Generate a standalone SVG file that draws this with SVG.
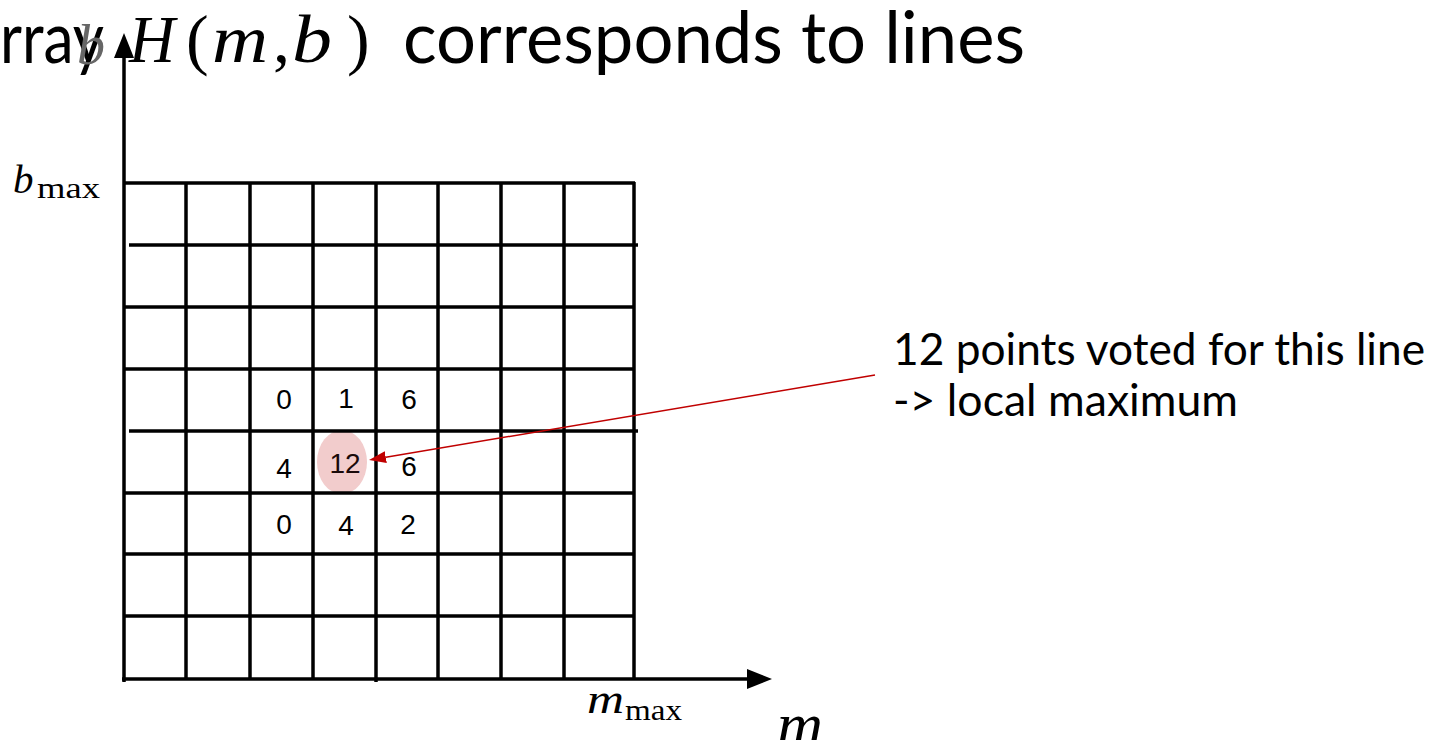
<svg xmlns="http://www.w3.org/2000/svg" width="1447" height="740" viewBox="0 0 1447 740">
<style>
.title{font-family:Lato,"Open Sans",sans-serif;font-size:72px;fill:#000}
.math{font-family:"Liberation Serif",serif;fill:#000}
.it{font-style:italic}
.grid line{stroke:#000;stroke-width:3.5}
.axis{stroke:#000;stroke-width:3.5;fill:none}
.num{font-family:"Liberation Sans",Arial,sans-serif;font-size:28px;fill:#000;text-anchor:middle}
.note{font-family:Lato,"Open Sans",sans-serif;font-size:44px;fill:#000}
</style>
<defs>
<marker id="axisHead" markerUnits="userSpaceOnUse" markerWidth="26" markerHeight="20" refX="0" refY="10" orient="auto">
<path d="M0,0 L25,10 L0,20 Z" fill="#000"/>
</marker>
<marker id="redHead" markerUnits="userSpaceOnUse" markerWidth="18" markerHeight="12" refX="0" refY="6" orient="auto">
<path d="M0,0 L17,6 L0,12 Z" fill="#c00000"/>
</marker>
</defs>
<rect width="1447" height="740" fill="#fff"/>

<g id="title">
<text class="title" x="0" y="63" textLength="104" lengthAdjust="spacingAndGlyphs">rray</text>
<text class="math it" font-size="68" x="129" y="62" textLength="46" lengthAdjust="spacingAndGlyphs">H</text>
<text class="math" font-size="68" x="186" y="62">(</text>
<text class="math it" font-size="68" x="212" y="62" textLength="56" lengthAdjust="spacingAndGlyphs">m</text>
<text class="math" font-size="68" x="273" y="62">,</text>
<text class="math it" font-size="68" x="292" y="62" textLength="40" lengthAdjust="spacingAndGlyphs">b</text>
<text class="math" font-size="68" x="347" y="62">)</text>
<text class="title" x="403" y="63" textLength="622" lengthAdjust="spacingAndGlyphs">corresponds to lines</text>
</g>

<g id="highlight">
<ellipse cx="342" cy="462" rx="25" ry="32" fill="#f2cccc"/>
</g>

<g id="grid" class="grid">
<line x1="124" y1="183" x2="635" y2="183"/>
<line x1="129" y1="245" x2="638" y2="245"/>
<line x1="124" y1="307" x2="634" y2="307"/>
<line x1="124" y1="369" x2="634" y2="369"/>
<line x1="129" y1="431" x2="638" y2="431"/>
<line x1="124" y1="493" x2="634" y2="493"/>
<line x1="124" y1="554" x2="634" y2="554"/>
<line x1="124" y1="616" x2="634" y2="616"/>
<line x1="186" y1="183" x2="186" y2="679"/>
<line x1="250" y1="183" x2="250" y2="679"/>
<line x1="313" y1="183" x2="313" y2="679"/>
<line x1="376" y1="183" x2="376" y2="682"/>
<line x1="438" y1="183" x2="438" y2="679"/>
<line x1="501" y1="183" x2="501" y2="679"/>
<line x1="564" y1="183" x2="564" y2="679"/>
<line x1="634" y1="182" x2="634" y2="679"/>
</g>

<g id="axes">
<line class="axis" x1="124" y1="682" x2="124" y2="58" marker-end="url(#axisHead)"/>
<line class="axis" x1="122" y1="679" x2="747" y2="679" marker-end="url(#axisHead)"/>
<text class="math it" x="77" y="64" font-size="56" style="fill:#666">b</text>
<text class="math" y="193"><tspan class="it" x="13" font-size="41">b</tspan><tspan x="37" y="198" font-size="29" textLength="63" lengthAdjust="spacingAndGlyphs">max</tspan></text>
<text class="math" y="713"><tspan class="it" x="587" font-size="42" textLength="37" lengthAdjust="spacingAndGlyphs">m</tspan><tspan x="625" y="720" font-size="29" textLength="57" lengthAdjust="spacingAndGlyphs">max</tspan></text>
<text class="math it" x="777" y="744" font-size="60" textLength="46" lengthAdjust="spacingAndGlyphs">m</text>
</g>

<g id="values">
<text class="num" x="284" y="409">0</text>
<text class="num" x="346" y="408">1</text>
<text class="num" x="409" y="409">6</text>
<text class="num" x="284" y="478">4</text>
<text class="num" x="345" y="473" style="fill:#1a0a0a">12</text>
<text class="num" x="409" y="476">6</text>
<text class="num" x="284" y="534">0</text>
<text class="num" x="346" y="535">4</text>
<text class="num" x="408" y="534">2</text>
</g>

<g id="connectors">
<line x1="875" y1="375" x2="385.8" y2="457.2" stroke="#c00000" stroke-width="1.5" marker-end="url(#redHead)"/>
</g>

<g id="annotation">
<text class="note" x="893" y="365" textLength="532" lengthAdjust="spacingAndGlyphs">12 points voted for this line</text>
<text class="note" x="893" y="416" textLength="345" lengthAdjust="spacingAndGlyphs">-&gt; local maximum</text>
</g>
</svg>
